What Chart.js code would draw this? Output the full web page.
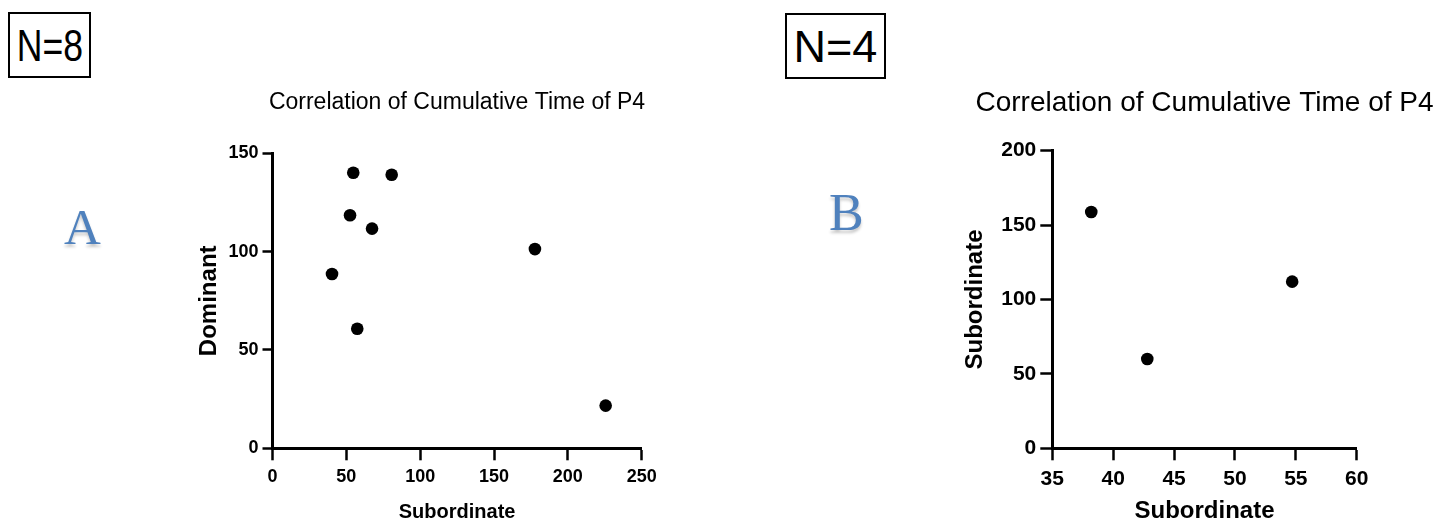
<!DOCTYPE html>
<html>
<head>
<meta charset="utf-8">
<script src="https://cdn.jsdelivr.net/npm/chart.js@4.4.1/dist/chart.umd.min.js"></script>
<style>
  html, body { margin: 0; padding: 0; background: #fff; width: 1442px; height: 523px; overflow: hidden; }
  .abs { position: absolute; }
  .nbox { position: absolute; border: 2px solid #000; box-sizing: border-box; color: #000;
          display: flex; align-items: center; justify-content: center; line-height: 1;
          font-family: 'Liberation Sans', Arial, sans-serif; font-size: 45px; }
  .nbox span { display: inline-block; }
  .letter { position: absolute; font-family: "Liberation Serif", "DejaVu Serif", serif; color: #4f81bd;
            line-height: 1; text-shadow: 0 3px 3px rgba(0,0,0,0.22); }
</style>
</head>
<body>
<div class="nbox" style="left:8px; top:12px; width:83px; height:66px;"><span style="transform: scaleX(0.79);">N=8</span></div>
<div class="nbox" style="left:785px; top:13px; width:101px; height:66px;"><span>N=4</span></div>
<div class="letter" style="left:64px; top:202px; font-size:51px;">A</div>
<div class="letter" style="left:829px; top:187px; font-size:52px;">B</div>

<canvas id="chartA" class="abs" width="524" height="463" style="left:195px; top:60px; width:524px; height:463px;"></canvas>
<canvas id="chartB" class="abs" width="493" height="463" style="left:958px; top:60px; width:493px; height:463px;"></canvas>

<script>
// ---- Data ----
const titleA = "Correlation of Cumulative Time of P4";
const xLabelA = "Subordinate";
const yLabelA = "Dominant";
const subordinateA = [54.7, 80.7, 52.5, 67.4, 40.3, 57.4, 177.7, 225.6];
const dominantA    = [140.1, 139.1, 118.5, 111.7, 88.6, 60.8, 101.3, 21.7];
const xTicksA = [0, 50, 100, 150, 200, 250];
const yTicksA = [0, 50, 100, 150];

const titleB = "Correlation of Cumulative Time of P4";
const xLabelB = "Subordinate";
const yLabelB = "Subordinate";
const subordinateXB = [38.2, 42.8, 54.7];
const subordinateYB = [158.8, 60.0, 112.0];
const xTicksB = [35, 40, 45, 50, 55, 60];
const yTicksB = [0, 50, 100, 150, 200];

Chart.defaults.devicePixelRatio = 1;
Chart.defaults.color = '#000';

function toPoints(xs, ys) { return xs.map((x, i) => ({ x: x, y: ys[i] })); }

function makeScale(opts) {
  return {
    type: 'linear',
    position: opts.position,
    min: opts.ticks[0],
    max: opts.ticks[opts.ticks.length - 1],
    afterBuildTicks: (s) => { s.ticks = opts.ticks.map(v => ({ value: v })); },
    afterFit: (s) => { if (opts.width !== undefined) s.width = opts.width; if (opts.height !== undefined) s.height = opts.height; },
    border: { display: true, color: '#000', width: 3 },
    grid: { display: true, drawOnChartArea: false, drawTicks: true, tickLength: opts.tickLength, tickColor: '#000', tickWidth: 2.5 },
    ticks: { font: opts.tickFont, color: '#000', padding: opts.tickPadding, maxRotation: 0, autoSkip: false },
    title: { display: true, text: opts.title, color: '#000', font: opts.titleFont, padding: opts.titlePadding }
  };
}

// empty right-hand spacer axis so the chart title stays centred over the plot
function spacerScale(width) {
  return {
    type: 'linear', position: 'right', display: true,
    afterFit: (s) => { s.width = width; },
    border: { display: false }, grid: { display: false, drawTicks: false },
    ticks: { display: false }, title: { display: false }
  };
}

function makeChart(id, cfg) {
  return new Chart(document.getElementById(id), {
    type: 'scatter',
    data: { datasets: [{ data: cfg.points, backgroundColor: '#000', borderColor: '#000', borderWidth: 0, pointRadius: 6.3, pointHoverRadius: 6.3, xAxisID: 'x', yAxisID: 'y' }] },
    options: {
      responsive: false,
      maintainAspectRatio: false,
      animation: false,
      events: [],
      layout: { padding: 0 },
      plugins: {
        legend: { display: false },
        tooltip: { enabled: false },
        title: { display: true, text: cfg.title, color: '#000', font: cfg.titleFont, padding: cfg.titlePadding }
      },
      scales: { x: cfg.x, y: cfg.y, spacer: spacerScale(cfg.rightSpace) }
    }
  });
}

// Chart A
makeChart('chartA', {
  points: toPoints(subordinateA, dominantA),
  title: titleA,
  titleFont: { family: "'Liberation Sans', Arial, sans-serif", size: 23, weight: 'normal', lineHeight: 1 },
  titlePadding: { top: 31.5, bottom: 38.8 },
  rightSpace: 77.3,
  x: makeScale({ position: 'bottom', ticks: xTicksA, height: 74.7, tickLength: 12, tickPadding: 6,
    tickFont: { family: "'Liberation Sans', Arial, sans-serif", size: 18, weight: 'bold' },
    title: xLabelA, titleFont: { family: "'Liberation Sans', Arial, sans-serif", size: 20, weight: 'bold', lineHeight: 1 },
    titlePadding: { top: 0, bottom: 1 } }),
  y: makeScale({ position: 'left', ticks: yTicksA, width: 77.5, tickLength: 10, tickPadding: 4,
    tickFont: { family: "'Liberation Sans', Arial, sans-serif", size: 18, weight: 'bold' },
    title: yLabelA, titleFont: { family: "'Liberation Sans', Arial, sans-serif", size: 24, weight: 'bold', lineHeight: 1 },
    titlePadding: { top: 2, bottom: 0 } })
});

// Chart B
makeChart('chartB', {
  points: toPoints(subordinateXB, subordinateYB),
  title: titleB,
  titleFont: { family: "'Liberation Sans', Arial, sans-serif", size: 28, weight: 'normal', lineHeight: 1 },
  titlePadding: { top: 29, bottom: 33.7 },
  rightSpace: 94.3,
  x: makeScale({ position: 'bottom', ticks: xTicksB, height: 74.7, tickLength: 12, tickPadding: 6,
    tickFont: { family: "'Liberation Sans', Arial, sans-serif", size: 21, weight: 'bold' },
    title: xLabelB, titleFont: { family: "'Liberation Sans', Arial, sans-serif", size: 24, weight: 'bold', lineHeight: 1 },
    titlePadding: { top: 0, bottom: 0 } }),
  y: makeScale({ position: 'left', ticks: yTicksB, width: 94.3, tickLength: 12, tickPadding: 4,
    tickFont: { family: "'Liberation Sans', Arial, sans-serif", size: 21, weight: 'bold' },
    title: yLabelB, titleFont: { family: "'Liberation Sans', Arial, sans-serif", size: 24, weight: 'bold', lineHeight: 1 },
    titlePadding: { top: 5, bottom: 0 } })
});
</script>
</body>
</html>
